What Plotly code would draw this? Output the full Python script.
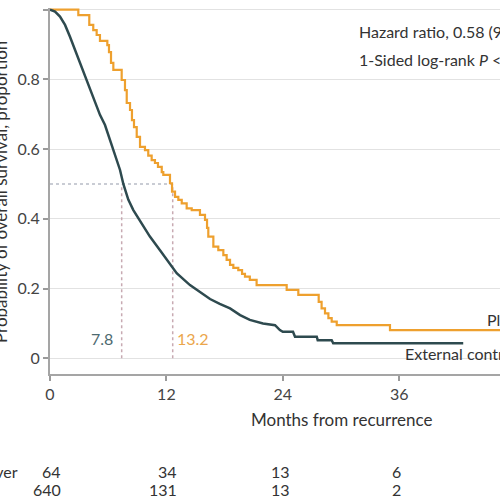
import plotly.graph_objects as go

# ---- data ----
months_ticks = [0, 12, 24, 36]

# External control (n=640): KM curve (months, survival)
ext_t = [0, 0.52, 1.03, 1.55, 2.06, 2.58, 3.09, 3.61, 4.12, 4.64, 5.15, 5.67, 6.19,
         6.7, 7.22, 7.56, 8.07, 8.59, 9.62, 10.3, 11.34, 12.03, 13.06, 14.43, 15.46, 16.5,
         17.5, 18.56, 19.6, 20.6, 21.96, 23.2, 23.7, 24.0, 25.05, 25.26, 27.5, 27.6,
         29.04, 29.2, 42.6]
ext_s = [1.0, 0.994, 0.98, 0.956, 0.922, 0.884, 0.85, 0.812, 0.774, 0.731, 0.698, 0.669,
         0.626, 0.583, 0.54, 0.5, 0.455, 0.425, 0.381, 0.349, 0.31, 0.282, 0.244, 0.21, 0.19,
         0.17, 0.156, 0.143, 0.124, 0.11, 0.10, 0.095, 0.081, 0.076, 0.076, 0.062, 0.062,
         0.052, 0.052, 0.043, 0.043]

# Placebo crossover (n=64): step KM curve (month of drop, new level)
pc_t = [0, 2.92, 4.05, 4.46, 4.81, 5.15, 5.91, 6.08, 6.29, 6.53, 7.39, 7.73, 7.91, 8.25,
        8.45, 8.66, 8.94, 9.28, 9.79, 10.13, 10.48, 10.82, 11.13, 11.52, 11.68, 12.37,
        12.58, 12.89, 13.23, 13.58, 14.09, 14.61, 15.46, 15.98, 16.19, 16.32, 16.84,
        17.35, 17.87, 18.21, 18.56, 18.9, 19.41, 19.8, 20.1, 20.6, 21.3, 24.4, 25.6,
        27.7, 28.0, 28.35, 28.7, 29.04, 29.56, 35.05, 47.0]
pc_s = [1.0, 0.984, 0.956, 0.941, 0.927, 0.91, 0.898, 0.878, 0.847, 0.827, 0.798, 0.769,
        0.732, 0.712, 0.683, 0.663, 0.635, 0.606, 0.597, 0.581, 0.568, 0.56, 0.549, 0.534,
        0.526, 0.502, 0.478, 0.463, 0.454, 0.444, 0.43, 0.425, 0.411, 0.397, 0.374, 0.349,
        0.32, 0.31, 0.296, 0.282, 0.268, 0.259, 0.253, 0.242, 0.234, 0.225, 0.21, 0.196,
        0.182, 0.162, 0.143, 0.129, 0.115, 0.105, 0.095, 0.081, 0.081]

# median guide lines (as drawn) and their labels
median_line_x = [7.39, 12.65]
median_labels = ["7.8", "13.2"]

risk_rows = ["Placebo crossover", "External control"]
risk_pc = [64, 34, 13, 6]
risk_ext = [640, 131, 13, 2]

DARK = "#2e4a4f"
ORANGE = "#eea02e"
FONT = "Lato"

fig = go.Figure()

# guide lines
fig.add_trace(go.Scatter(x=[0, median_line_x[1]], y=[0.5, 0.5], mode="lines",
                         line=dict(color="#b8bcc6", width=1.5, dash="dot"), hoverinfo="skip"))
for mx in median_line_x:
    fig.add_trace(go.Scatter(x=[mx, mx], y=[0, 0.5], mode="lines",
                             line=dict(color="#c8aab2", width=1.5, dash="dot"), hoverinfo="skip"))

fig.add_trace(go.Scatter(x=pc_t, y=pc_s, mode="lines", line=dict(color=ORANGE, width=2.2, shape="hv"),
                         name="Placebo crossover"))
fig.add_trace(go.Scatter(x=ext_t, y=ext_s, mode="lines", line=dict(color=DARK, width=2.5),
                         name="External control"))

W, H = 500, 500
L, R, T, B = 50, 0, 8, 126
pw, ph = W - L - R, H - T - B
px_per_month = 9.7
x_max = pw / px_per_month
y_bot = (358.3 - 374) / 348.75
y_top = (358.3 - 8) / 348.75


def px_x(px):
    return (px - L) / pw


def px_y(py):
    return (H - B - py) / ph


TXT = "#333"
ann = []


def add(x, y, text, size=16, color=TXT, xref="paper", yref="paper", xanchor="center", **kw):
    ann.append(dict(x=x, y=y, xref=xref, yref=yref, text=text, showarrow=False,
                    xanchor=xanchor, yanchor="middle",
                    font=dict(family=FONT, size=size, color=color), **kw))


# median labels
add(5.33, 0.057, median_labels[0], color="#4d6a70", xref="x", yref="y")
add(14.74, 0.057, median_labels[1], color="#eba64c", xref="x", yref="y")
# statistics text
add(px_x(357), px_y(32), "Hazard ratio, 0.58 (98% CI, 0.40-0.83)", size=16, xanchor="left")
add(px_x(357), px_y(59), "1-Sided log-rank <i>P</i> < .001", size=16, xanchor="left")
# curve labels
add(px_x(485), px_y(319), "Placebo crossover", xanchor="left")
add(px_x(403), px_y(353), "External control", xanchor="left")
# axis titles
add(px_x(341), px_y(420), "Months from recurrence", size=17)
add(px_x(0), px_y(192), "Probability of overall survival, proportion", size=17, textangle=-90)
# risk table
row_y = [px_y(471), px_y(490)]
add(px_x(20), row_y[0], risk_rows[0], xanchor="right")
add(px_x(-4), row_y[1], risk_rows[1], xanchor="right")
for tx, a, b in zip(months_ticks, risk_pc, risk_ext):
    add(tx, row_y[0], str(a), xref="x", xanchor="right", xshift=13 if tx < 24 else (9 if tx == 24 else 4))
    add(tx, row_y[1], str(b), xref="x", xanchor="right", xshift=13 if tx < 24 else (9 if tx == 24 else 4))

fig.update_layout(
    width=W, height=H,
    margin=dict(l=L, r=R, t=T, b=B, pad=0),
    paper_bgcolor="white", plot_bgcolor="white",
    showlegend=False, hovermode=False,
    annotations=ann,
    font=dict(family=FONT, color="#444"),
)
fig.update_xaxes(range=[0, x_max], tickvals=months_ticks, ticks="outside", ticklen=5,
                 tickcolor="#9a9a9a", tickwidth=1.5, showline=True, linecolor="#a5a5a5",
                 linewidth=2, showgrid=False, zeroline=False,
                 tickfont=dict(family=FONT, size=16, color="#444"))
fig.update_yaxes(range=[y_bot, y_top], tickvals=[0, 0.2, 0.4, 0.6, 0.8, 1.0],
                 ticktext=["0", "0.2", "0.4", "0.6", "0.8", "1.0"], ticks="outside", ticklen=5,
                 tickcolor="#9a9a9a", tickwidth=1.5, showline=True, linecolor="#a5a5a5",
                 linewidth=2, showgrid=True, gridcolor="#e2e2e2", gridwidth=1, zeroline=False,
                 tickfont=dict(family=FONT, size=16, color="#444"))

fig.write_html("out.html", config={"displayModeBar": False},
               post_script="document.body.style.margin='0';document.body.style.overflow='hidden';")
